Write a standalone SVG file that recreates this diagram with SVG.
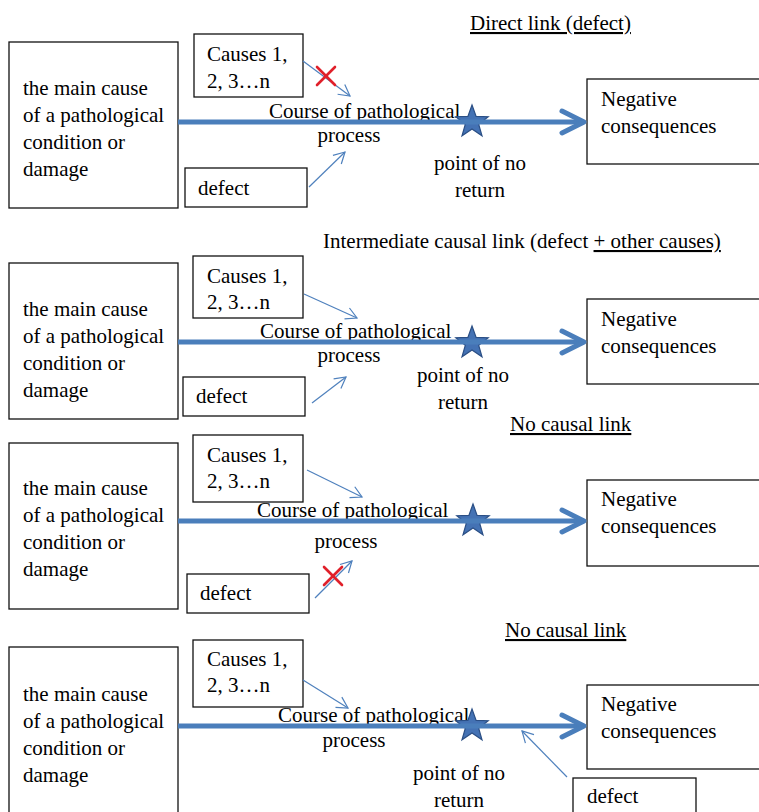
<svg xmlns="http://www.w3.org/2000/svg" width="759" height="812" viewBox="0 0 759 812">
<style>
  text { font-family: "Liberation Serif", "Times New Roman", serif; font-size: 21px; fill: #000; }
  .box { fill: #fff; stroke: #111; stroke-width: 1.3; }
  .main { fill: none; stroke: #4a7ebb; stroke-width: 5; }
  .thin { fill: none; stroke: #4f81bd; stroke-width: 1.2; }
  .x { stroke: #e0202a; stroke-width: 2.6; stroke-linecap: round; }
  .star { fill: #4472b4; stroke: #2b4f85; stroke-width: 1.2; }
  .ul { text-decoration: underline; }
  .mid { text-anchor: middle; }
</style>
<defs>
  <marker id="bigArrow" markerUnits="userSpaceOnUse" markerWidth="30" markerHeight="30" viewBox="-26 -15 30 30" refX="0" refY="0" orient="auto" overflow="visible">
    <path d="M-22,-11 L0,0 L-22,11" fill="none" stroke="#4a7ebb" stroke-width="5" stroke-linejoin="round" stroke-linecap="round"/>
  </marker>
  <marker id="thinArrow" markerUnits="userSpaceOnUse" markerWidth="14" markerHeight="14" viewBox="-12 -7 14 14" refX="0" refY="0" orient="auto" overflow="visible">
    <path d="M-11,-6 L0,0 L-11,6" fill="none" stroke="#4f81bd" stroke-width="1.2"/>
  </marker>
  <path id="star" d="M0,-17 L4.11,-5.66 L16.17,-5.25 L6.66,2.16 L9.99,13.75 L0,7 L-9.99,13.75 L-6.66,2.16 L-16.17,-5.25 L-4.11,-5.66 Z"/>
</defs>

<!-- ===== Panel 1 ===== -->
<text id="title1" class="ul" x="470" y="30">Direct link (defect)</text>
<g id="p1-main"><rect class="box" x="9" y="42" width="169" height="166"/>
  <text x="23" y="95">the main cause</text><text x="23" y="122">of a pathological</text><text x="23" y="149">condition or</text><text x="23" y="176">damage</text></g>
<g id="p1-causes"><rect class="box" x="194" y="34" width="109" height="63"/>
  <text x="207" y="61">Causes 1,</text><text x="207" y="88">2, 3…n</text></g>
<g id="p1-defect"><rect class="box" x="185" y="168" width="122" height="39"/><text x="198" y="195">defect</text></g>
<g id="p1-neg"><rect class="box" x="587" y="79" width="200" height="85"/>
  <text x="601" y="106">Negative</text><text x="601" y="133">consequences</text></g>
<g id="p1-course"><text x="269" y="118">Course of pathological</text><text class="mid" x="349" y="142">process</text></g>
<g id="p1-star"><use href="#star" class="star" x="472" y="122"/>
  <text class="mid" x="480" y="170">point of no</text><text class="mid" x="480" y="197">return</text></g>

<!-- ===== Panel 2 ===== -->
<text id="title2" x="323" y="248">Intermediate causal link (defect <tspan class="ul">+ other causes)</tspan></text>
<g id="p2-main"><rect class="box" x="9" y="263" width="169" height="156"/>
  <text x="23" y="316">the main cause</text><text x="23" y="343">of a pathological</text><text x="23" y="370">condition or</text><text x="23" y="397">damage</text></g>
<g id="p2-causes"><rect class="box" x="193" y="256" width="110" height="62"/>
  <text x="207" y="283">Causes 1,</text><text x="207" y="309">2, 3…n</text></g>
<g id="p2-defect"><rect class="box" x="183" y="377" width="122" height="39"/><text x="196" y="403">defect</text></g>
<g id="p2-neg"><rect class="box" x="587" y="299" width="200" height="85"/>
  <text x="601" y="326">Negative</text><text x="601" y="353">consequences</text></g>
<g id="p2-course"><text x="260" y="338">Course of pathological</text><text class="mid" x="349" y="362">process</text></g>
<g id="p2-star"><use href="#star" class="star" x="472" y="343"/>
  <text class="mid" x="463" y="382">point of no</text><text class="mid" x="463" y="409">return</text></g>

<!-- ===== Panel 3 ===== -->
<text id="title3" class="ul" x="510" y="431">No causal link</text>
<g id="p3-main"><rect class="box" x="9" y="443" width="169" height="166"/>
  <text x="23" y="495">the main cause</text><text x="23" y="522">of a pathological</text><text x="23" y="549">condition or</text><text x="23" y="576">damage</text></g>
<g id="p3-causes"><rect class="box" x="193" y="435" width="110" height="67"/>
  <text x="207" y="462">Causes 1,</text><text x="207" y="488">2, 3…n</text></g>
<g id="p3-defect"><rect class="box" x="187" y="574" width="122" height="39"/><text x="200" y="600">defect</text></g>
<g id="p3-neg"><rect class="box" x="587" y="480" width="200" height="86"/>
  <text x="601" y="506">Negative</text><text x="601" y="533">consequences</text></g>
<g id="p3-course"><text x="257" y="517">Course of pathological</text><text class="mid" x="346" y="548">process</text></g>
<g id="p3-star"><use href="#star" class="star" x="473" y="521"/></g>

<!-- ===== Panel 4 ===== -->
<text id="title4" class="ul" x="505" y="637">No causal link</text>
<g id="p4-main"><rect class="box" x="9" y="647" width="169" height="180"/>
  <text x="23" y="701">the main cause</text><text x="23" y="728">of a pathological</text><text x="23" y="755">condition or</text><text x="23" y="782">damage</text></g>
<g id="p4-causes"><rect class="box" x="193" y="640" width="110" height="67"/>
  <text x="207" y="666">Causes 1,</text><text x="207" y="692">2, 3…n</text></g>
<g id="p4-defect"><rect class="box" x="573" y="778" width="123" height="50"/><text x="587" y="803">defect</text></g>
<g id="p4-neg"><rect class="box" x="587" y="685" width="200" height="84"/>
  <text x="601" y="711">Negative</text><text x="601" y="738">consequences</text></g>
<g id="p4-course"><text x="278" y="722">Course of pathological</text><text class="mid" x="354" y="747">process</text></g>
<g id="p4-star"><use href="#star" class="star" x="472" y="726"/>
  <text class="mid" x="459" y="780">point of no</text><text class="mid" x="459" y="807">return</text></g>

<!-- ===== Connectors ===== -->
<g id="connectors">
  <path class="main" d="M178,122 H584" marker-end="url(#bigArrow)"/>
  <path class="main" d="M178,342 H584" marker-end="url(#bigArrow)"/>
  <path class="main" d="M178,521 H584" marker-end="url(#bigArrow)"/>
  <path class="main" d="M178,726 H584" marker-end="url(#bigArrow)"/>

  <path class="thin" d="M303,61 L350,96" marker-end="url(#thinArrow)"/>
  <path class="thin" d="M309,187 L345,152" marker-end="url(#thinArrow)"/>
  <path class="thin" d="M304,294 L357,318" marker-end="url(#thinArrow)"/>
  <path class="thin" d="M312,403 L346,377" marker-end="url(#thinArrow)"/>
  <path class="thin" d="M307,470 L362,497" marker-end="url(#thinArrow)"/>
  <path class="thin" d="M315,598 L352,561" marker-end="url(#thinArrow)"/>
  <path class="thin" d="M303,680 L348,708" marker-end="url(#thinArrow)"/>
  <path class="thin" d="M567,777 L522,731" marker-end="url(#thinArrow)"/>

  <g id="cross1"><line class="x" x1="317" y1="67" x2="335" y2="85"/><line class="x" x1="335" y1="67" x2="317" y2="85"/></g>
  <g id="cross3"><line class="x" x1="324" y1="567" x2="342" y2="585"/><line class="x" x1="342" y1="567" x2="324" y2="585"/></g>
</g>
</svg>
